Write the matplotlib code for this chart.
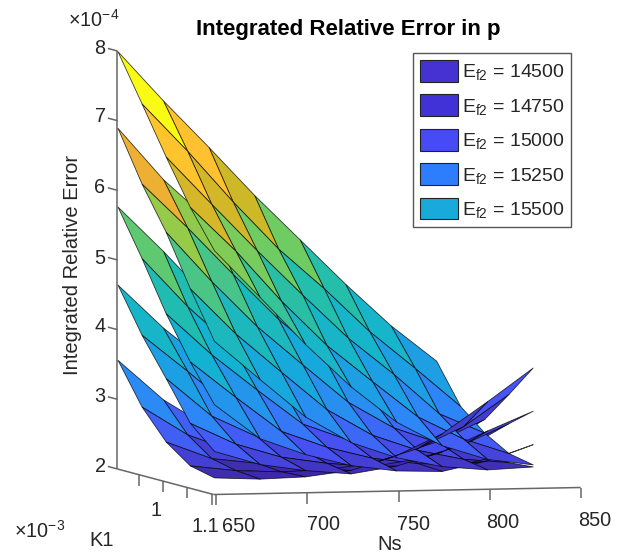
import numpy as np
import matplotlib
matplotlib.use('Agg')
import matplotlib.pyplot as plt
from matplotlib.colors import LinearSegmentedColormap
from matplotlib.patches import Patch
from mpl_toolkits.mplot3d import proj3d
from mpl_toolkits.mplot3d.art3d import Poly3DCollection

plt.rcParams['font.family'] = ['Liberation Sans', 'DejaVu Sans']
plt.rcParams['mathtext.default'] = 'regular'

Ns = [650, 675, 700, 725, 750, 775, 800, 825]
K1 = [0.90, 0.95, 1.00, 1.05, 1.10]
Ef2 = [14500, 14750, 15000, 15250, 15500]

E_14500 = [[3.55, 2.97, 2.56, 2.31, 2.23, 2.20, 2.22, 2.30],
           [2.97, 2.56, 2.31, 2.23, 2.20, 2.22, 2.30, 2.50],
           [2.56, 2.31, 2.23, 2.20, 2.22, 2.30, 2.50, 2.80],
           [2.31, 2.23, 2.20, 2.22, 2.30, 2.50, 2.80, 3.25],
           [2.23, 2.20, 2.22, 2.30, 2.50, 2.80, 3.25, 3.72]]
E_14750 = [[4.63, 4.00, 3.47, 2.92, 2.61, 2.41, 2.31, 2.25],
           [4.00, 3.47, 2.92, 2.61, 2.41, 2.31, 2.25, 2.35],
           [3.47, 2.92, 2.61, 2.41, 2.31, 2.25, 2.35, 2.54],
           [2.92, 2.61, 2.41, 2.31, 2.25, 2.35, 2.54, 2.83],
           [2.61, 2.41, 2.31, 2.25, 2.35, 2.54, 2.83, 3.10]]
E_15000 = [[5.75, 5.10, 4.40, 3.80, 3.28, 2.78, 2.54, 2.37],
           [5.10, 4.40, 3.80, 3.28, 2.78, 2.54, 2.37, 2.28],
           [4.40, 3.80, 3.28, 2.78, 2.54, 2.37, 2.28, 2.26],
           [3.80, 3.28, 2.78, 2.54, 2.37, 2.28, 2.26, 2.40],
           [3.28, 2.78, 2.54, 2.37, 2.28, 2.26, 2.40, 2.62]]
E_15250 = [[6.88, 6.13, 5.53, 4.85, 4.19, 3.63, 3.08, 2.70],
           [6.17, 5.53, 4.85, 4.19, 3.63, 3.08, 2.70, 2.47],
           [5.57, 4.85, 4.19, 3.63, 3.08, 2.70, 2.47, 2.33],
           [4.85, 4.19, 3.63, 3.08, 2.70, 2.47, 2.33, 2.27],
           [4.19, 3.63, 3.08, 2.70, 2.47, 2.33, 2.27, 2.30]]
E_15500 = [[7.98, 7.26, 6.58, 5.88, 5.23, 4.58, 3.97, 3.45],
           [7.32, 6.63, 5.89, 5.20, 4.62, 3.99, 3.45, 2.89],
           [6.65, 5.96, 5.28, 4.63, 4.00, 3.47, 2.89, 2.60],
           [6.02, 5.38, 4.65, 4.00, 3.47, 2.95, 2.62, 2.40],
           [5.49, 4.81, 4.12, 3.50, 2.98, 2.63, 2.42, 2.33]]
surfaces = [E_14500, E_14750, E_15000, E_15250, E_15500]

legend_colors = ['#4632d2', '#4132d7', '#464bf5', '#2d7dff', '#19aadc']
legend_labels = ['E$_{f2}$ = %d' % v for v in Ef2]

ns_ticks = [650, 700, 750, 800, 850]
k1_ticks = [0.95, 1.00, 1.05, 1.10]
z_ticks = [2, 3, 4, 5, 6, 7, 8]

W, H = 621, 559
parula = LinearSegmentedColormap.from_list('parula', [
    (0.000, (.2422, .1504, .6603)), (0.100, (.2810, .3228, .9579)),
    (0.220, (.1786, .5289, .9682)), (0.370, (.0689, .6948, .8394)),
    (0.520, (.1400, .7450, .6700)), (0.634, (.4300, .8000, .3900)),
    (0.700, (.6300, .7900, .2600)), (0.755, (.8000, .7250, .1500)),
    (0.810, (.9400, .6900, .2000)), (0.870, (1.000, .7500, .1900)),
    (0.950, (.9800, .8800, .1000)), (1.000, (.9769, .9839, .0805))])

fig = plt.figure(figsize=(W / 100, H / 100), dpi=100, facecolor='white')
ax = fig.add_axes([0.1, 0.1, 0.8, 0.8], projection='3d')
ax.set_proj_type('ortho')
ax.view_init(elev=4.08, azim=-105)
ax.set_box_aspect((380, 371, 419))
xlo, xhi, ylo, yhi, zlo, zhi = 648.4, 850, 1.104, 0.905, 2, 8
ax.set_xlim(xlo, xhi)
ax.set_ylim(ylo, yhi)
ax.set_zlim(zlo, zhi)
ax.set_axis_off()
ax.computed_zorder = False
ax.patch.set_alpha(0)


def px(x, y, z):
    X, Y, _ = proj3d.proj_transform(x, y, z, ax.get_proj())
    return ax.transData.transform((X, Y))


# fit the viewport so that the box corners land where the reference has them
fig.canvas.draw()
ax.apply_aspect()
bb = ax.get_window_extent()
c = np.array([(bb.x0 + bb.x1) / 2, (bb.y0 + bb.y1) / 2])
s = bb.width
a = (px(xlo, yhi, zlo) - c) / s
b = (px(xlo, yhi, zhi) - c) / s
ta = np.array([117.5, H - 469.0])
tb = np.array([117.5, H - 51.0])
s2 = np.linalg.norm(tb - ta) / np.linalg.norm(b - a)
c2 = ta - s2 * a
ax.set_position([(c2[0] - s2 / 2) / W, (c2[1] - s2 / 2) / H, s2 / W, s2 / H])

# surfaces
verts, cols = [], []
for Z in surfaces:
    Z = np.array(Z)
    for j in range(len(K1) - 1):
        for i in range(len(Ns) - 1):
            verts.append([(Ns[i], K1[j], Z[j, i]), (Ns[i + 1], K1[j], Z[j, i + 1]),
                          (Ns[i + 1], K1[j + 1], Z[j + 1, i + 1]), (Ns[i], K1[j + 1], Z[j + 1, i])])
            cols.append(parula((Z[j, i] - 2.2) / 5.8))
pc = Poly3DCollection(verts, facecolors=cols, edgecolors=(0, 0, 0, 0.75), linewidths=0.6, zsort='average')
pc.set_zorder(3)
ax.add_collection3d(pc)

# axes lines and ticks
g = dict(color='#666666', lw=1.1, zorder=1, solid_capstyle='butt', clip_on=False)
ax.plot([xlo, xlo], [yhi, yhi], [zlo, zhi], **g)
ax.plot([xlo, xlo], [yhi, ylo], [zlo, zlo], **g)
ax.plot([xlo, xhi], [ylo, ylo], [zlo, zlo], **g)
for t in ns_ticks:
    ax.plot([t, t], [ylo, ylo], [zlo, zlo - 0.155], **g)
for t in k1_ticks:
    ax.plot([xlo, xlo], [t, t], [zlo, zlo - 0.155], **g)
for t in z_ticks:
    ax.plot([xlo, xlo], [yhi, yhi - 0.02], [t, t], **g)

tc = '#262626'
def T(x, y, s, **kw):
    kw.setdefault('fontsize', 14.3)
    kw.setdefault('color', tc)
    kw.setdefault('ha', 'center')
    kw.setdefault('va', 'center')
    fig.text(x / W, 1 - y / H, s, **kw)

for t, y in zip(z_ticks, [467, 397, 327, 258, 187, 117, 48]):
    T(100, y, str(t))
for t, x, y in zip(ns_ticks, [239, 323, 413, 503, 595], [527, 525, 525, 523, 521]):
    T(x, y, str(t))
T(156, 511, '1')
T(205, 527, '1.1')
T(40, 531, r'$\times$10$^{-3}$')
T(94, 20, r'$\times$10$^{-4}$')
T(102, 540, 'K1', fontsize=14.5)
T(390, 545, 'Ns', fontsize=14.5)
T(72, 265, 'Integrated Relative Error', rotation=90, fontsize=14.5)
T(348, 29, 'Integrated Relative Error in p', fontsize=16, fontweight='bold', color='black')

handles = [Patch(facecolor=c_, edgecolor='#222222', linewidth=0.8) for c_ in legend_colors]
fig.legend(handles, legend_labels, loc='upper left', bbox_to_anchor=(413 / W, 1 - 53 / H),
           borderaxespad=0, fontsize=14, handlelength=1.96, handleheight=1.35, handletextpad=0.2,
           labelspacing=0.62, borderpad=0.35, fancybox=False, edgecolor='#555555', framealpha=1,
           labelcolor=tc)

fig.savefig('out.png', dpi=100)
